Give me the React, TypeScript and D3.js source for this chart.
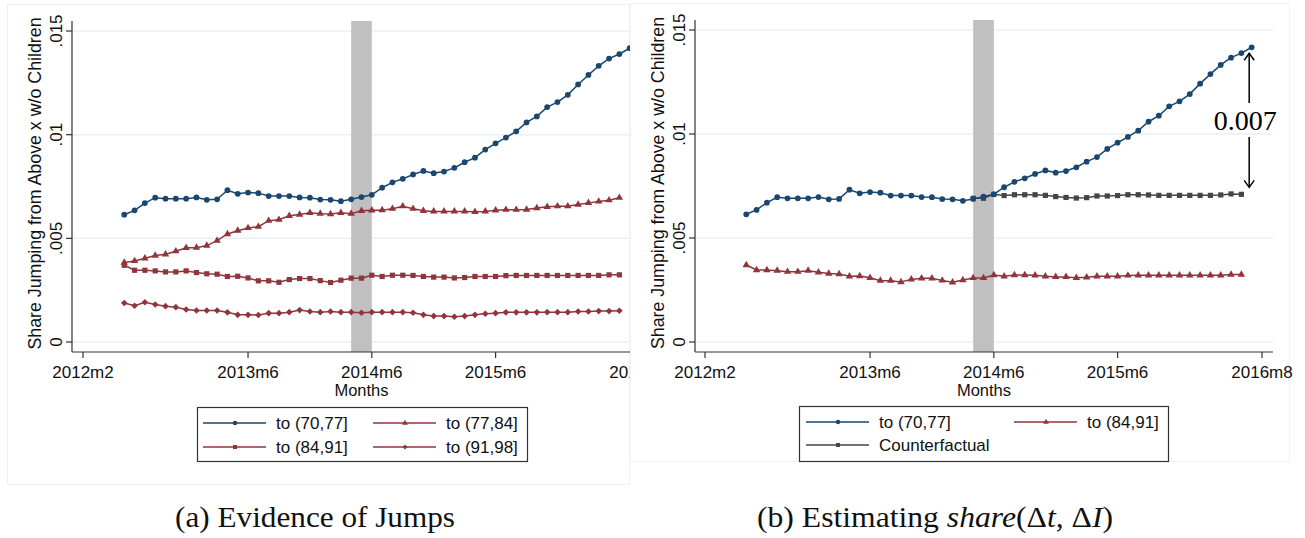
import React from "react";
import * as d3 from "d3";

// ---------- data (month index 0 = 2012m2) ----------
const tickMonths = [0, 16, 28, 40, 54];
const tickLabels = ["2012m2", "2013m6", "2014m6", "2015m6", "2016m8"];
const yTicks = [0, 0.005, 0.01, 0.015];
const yTickLabels = ["0", ".005", ".01", ".015"];

const start70 = 4; // 2012m6
const s70_77 = [
  0.00614, 0.00635, 0.0067, 0.00696, 0.00691, 0.00691, 0.00691, 0.00697, 0.00686, 0.00688,
  0.00732, 0.00715, 0.00721, 0.00718, 0.00704, 0.00704, 0.00704, 0.00697, 0.00696, 0.00687,
  0.00686, 0.00679, 0.00688, 0.00699, 0.0071, 0.00744, 0.0077, 0.00787, 0.00808, 0.00825,
  0.00814, 0.00822, 0.0084, 0.00867, 0.00889, 0.00928, 0.00958, 0.00986, 0.01016, 0.01059,
  0.01088, 0.01133, 0.01157, 0.01192, 0.01242, 0.01288, 0.01332, 0.01367, 0.01389, 0.01417,
];
const startRed = 4;
const s77_84 = [
  0.00383, 0.00391, 0.00404, 0.00417, 0.00423, 0.00438, 0.00454, 0.00455, 0.00465, 0.00489,
  0.00521, 0.00537, 0.0055, 0.00556, 0.00585, 0.0059, 0.00609, 0.00615, 0.00623, 0.00619,
  0.00617, 0.00623, 0.00619, 0.00633, 0.00635, 0.00636, 0.00643, 0.00655, 0.00643, 0.00633,
  0.0063, 0.0063, 0.0063, 0.0063, 0.00628, 0.0063, 0.00635, 0.00638, 0.00638, 0.00639,
  0.00646, 0.00652, 0.00655, 0.00655, 0.00663, 0.00671, 0.00678, 0.00684, 0.00696,
];
const s84_91 = [
  0.0037, 0.00346, 0.00346, 0.00343, 0.00338, 0.00338, 0.00343, 0.00335, 0.00329, 0.00327,
  0.00316, 0.00317, 0.00309, 0.00295, 0.00295, 0.00288, 0.00301, 0.00306, 0.00306, 0.00296,
  0.00287, 0.00298, 0.00308, 0.00308, 0.00322, 0.00316, 0.00322, 0.00322, 0.00321, 0.00316,
  0.00313, 0.00313, 0.00309, 0.00311, 0.00316, 0.00316, 0.00316, 0.0032, 0.00321, 0.00321,
  0.00321, 0.00321, 0.00321, 0.00321, 0.00321, 0.00321, 0.00321, 0.00324, 0.00324,
];
const s91_98 = [
  0.00188, 0.00175, 0.00192, 0.00181, 0.00173, 0.00168, 0.00157, 0.00152, 0.00152, 0.00152,
  0.00143, 0.00131, 0.00131, 0.0013, 0.00139, 0.00139, 0.00144, 0.00154, 0.00147, 0.00144,
  0.00147, 0.00144, 0.00144, 0.00141, 0.00144, 0.00144, 0.00144, 0.00144, 0.00141, 0.00131,
  0.00125, 0.00125, 0.00122, 0.00125, 0.00131, 0.00136, 0.00139, 0.00143, 0.00143, 0.00143,
  0.00143, 0.00144, 0.00144, 0.00144, 0.00147, 0.00147, 0.00149, 0.00149, 0.00151,
];
const startCF = 26; // 2014m4
const counterfactual = [
  0.00691, 0.00691, 0.0071, 0.00704, 0.00708, 0.00708, 0.00708, 0.00705, 0.00699, 0.00695,
  0.00692, 0.00694, 0.00702, 0.00702, 0.00704, 0.00708, 0.00708, 0.00707, 0.00705, 0.00705,
  0.00705, 0.00705, 0.00705, 0.00705, 0.00707, 0.00712, 0.0071,
];
const bandMonths = [26, 28]; // 2014m4 - 2014m6
const gapLabel = "0.007";

const NAVY = "#1a476f";
const MAROON = "#90353b";
const CFGRAY = "#454545";
const GRID = "#e9f0f2";
const SANS = "'Liberation Sans', Arial, sans-serif";
const SERIF = "'Liberation Serif', 'Times New Roman', serif";
const FS = 17;

type Series = { values: number[]; start: number; color: string; shape: string; label: string };

const symbolFor = (shape: string, size: number) => {
  if (shape === "circle") return d3.symbol(d3.symbolCircle, size)() as string;
  if (shape === "triangle") return d3.symbol(d3.symbolTriangle, size)() as string;
  return d3.symbol(d3.symbolSquare, size)() as string; // square, and diamond = rotated square
};
const markerSize: Record<string, number> = { circle: 26, triangle: 24, square: 27, diamond: 22 };

function Marker({ x, y, shape, color, scale = 1 }: any) {
  const rot = shape === "diamond" ? 45 : 0;
  return (
    <path
      d={symbolFor(shape, markerSize[shape] * scale)}
      transform={`translate(${x},${y}) rotate(${rot})`}
      fill={color}
      stroke="none"
    />
  );
}

type PanelCfg = {
  axisX: number;
  xr: [number, number];
  yr: [number, number];
  top: number;
  base: number;
  xEnd: number;
  series: Series[];
};

function Panel({ cfg, children }: { cfg: PanelCfg; children?: any }) {
  const x = d3.scaleLinear().domain([0, 54]).range(cfg.xr);
  const y = d3.scaleLinear().domain([0, 0.015]).range(cfg.yr);
  const line = d3
    .line<[number, number]>()
    .x((d) => x(d[0]))
    .y((d) => y(d[1]));
  const mid = (cfg.top + cfg.base) / 2 - 3;
  return (
    <g>
      {yTicks.map((t) => (
        <line key={t} x1={cfg.axisX} x2={cfg.xEnd} y1={y(t)} y2={y(t)} stroke={GRID} strokeWidth={1.5} />
      ))}
      <rect
        x={x(bandMonths[0])}
        width={x(bandMonths[1]) - x(bandMonths[0])}
        y={cfg.top}
        height={cfg.base - cfg.top}
        fill="#c0c0c0"
      />
      {cfg.series.map((s) => {
        const pts: [number, number][] = s.values.map((v, i) => [s.start + i, v]);
        return (
          <g key={s.label}>
            <path d={line(pts) as string} fill="none" stroke={s.color} strokeWidth={1.5} />
            {pts.map((p, i) => (
              <Marker key={i} x={x(p[0])} y={y(p[1])} shape={s.shape} color={s.color} />
            ))}
          </g>
        );
      })}
      {children && children(x, y)}
      <line x1={cfg.axisX} x2={cfg.axisX} y1={cfg.top} y2={cfg.base} stroke="#333" strokeWidth={1.2} />
      <line x1={cfg.axisX} x2={cfg.xEnd} y1={cfg.base} y2={cfg.base} stroke="#333" strokeWidth={1.2} />
      {yTicks.map((t, i) => (
        <g key={t}>
          <line x1={cfg.axisX - 6} x2={cfg.axisX} y1={y(t)} y2={y(t)} stroke="#333" strokeWidth={1.2} />
          <text
            transform={`translate(${cfg.axisX - 10},${y(t)}) rotate(-90)`}
            textAnchor="middle"
            fontFamily={SANS}
            fontSize={FS}
            fill="#111"
          >
            {yTickLabels[i]}
          </text>
        </g>
      ))}
      {tickMonths.map((m, i) => (
        <g key={m}>
          <line x1={x(m)} x2={x(m)} y1={cfg.base} y2={cfg.base + 6} stroke="#333" strokeWidth={1.2} />
          <text x={x(m)} y={cfg.base + 26} textAnchor="middle" fontFamily={SANS} fontSize={FS} fill="#111">
            {tickLabels[i]}
          </text>
        </g>
      ))}
      <text
        x={(cfg.axisX + cfg.xEnd) / 2}
        y={cfg.base + 44}
        textAnchor="middle"
        fontFamily={SANS}
        fontSize={16.5}
        fill="#111"
      >
        Months
      </text>
      <text
        transform={`translate(${cfg.axisX - 31},${mid}) rotate(-90)`}
        textAnchor="middle"
        fontFamily={SANS}
        fontSize={17.8}
        fill="#111"
      >
        Share Jumping from Above x w/o Children
      </text>
    </g>
  );
}

function LegendItem({ x, y, s, textX }: any) {
  return (
    <g>
      <line x1={x} x2={x + 63} y1={y} y2={y} stroke={s.color} strokeWidth={1.4} />
      <Marker x={x + 32} y={y} shape={s.shape} color={s.color} scale={0.6} />
      <text x={textX} y={y + 6} fontFamily={SANS} fontSize={FS} fill="#111">
        {s.label}
      </text>
    </g>
  );
}

export default function App() {
  const blue: Series = { values: s70_77, start: start70, color: NAVY, shape: "circle", label: "to (70,77]" };
  const tri: Series = { values: s77_84, start: startRed, color: MAROON, shape: "triangle", label: "to (77,84]" };
  const sq: Series = { values: s84_91, start: startRed, color: MAROON, shape: "square", label: "to (84,91]" };
  const dia: Series = { values: s91_98, start: startRed, color: MAROON, shape: "diamond", label: "to (91,98]" };
  const triR: Series = { values: s84_91, start: startRed, color: MAROON, shape: "triangle", label: "to (84,91]" };
  const cf: Series = { values: counterfactual, start: startCF, color: CFGRAY, shape: "square", label: "Counterfactual" };

  const leftCfg: PanelCfg = {
    axisX: 72,
    xr: [83, 640],
    yr: [342, 31],
    top: 21,
    base: 352,
    xEnd: 651,
    series: [tri, sq, dia, blue],
  };
  const rightCfg: PanelCfg = {
    axisX: 695,
    xr: [705, 1262],
    yr: [342, 30],
    top: 20,
    base: 352,
    xEnd: 1273,
    series: [triR, cf, blue],
  };

  const lastBlue = start70 + s70_77.length - 1;

  return (
    <svg
      width={1305}
      height={538}
      viewBox="0 0 1305 538"
      style={{ position: "absolute", left: 0, top: 0, background: "#fff" }}
    >
      <defs>
        <clipPath id="clipL">
          <rect x={0} y={0} width={630} height={538} />
        </clipPath>
      </defs>
      <rect x={0} y={0} width={1305} height={538} fill="#fff" />
      <rect x={7.5} y={4.5} width={622} height={480} fill="none" stroke="#f1f1f1" strokeWidth={1} />
      <rect x={630.5} y={3.5} width={659} height={458} fill="none" stroke="#f3f3f3" strokeWidth={1} />

      <g clipPath="url(#clipL)">
        <Panel cfg={leftCfg} />
      </g>
      <Panel cfg={rightCfg}>
        {(x: any, y: any) => {
          const ax = x(lastBlue) - 2.5;
          const yt = y(s70_77[s70_77.length - 1]) + 6;
          const yb = y(counterfactual[counterfactual.length - 1]) - 7;
          const ty = 130;
          return (
            <g stroke="#000" strokeWidth={1.5} fill="none">
              <line x1={ax} x2={ax} y1={yt} y2={ty - 27} />
              <line x1={ax} x2={ax} y1={ty + 7} y2={yb} />
              <polyline points={`${ax - 5},${yt + 7} ${ax},${yt} ${ax + 5},${yt + 7}`} />
              <polyline points={`${ax - 5},${yb - 7} ${ax},${yb} ${ax + 5},${yb - 7}`} />
              <text
                x={ax - 4}
                y={ty}
                textAnchor="middle"
                fontFamily={SERIF}
                fontSize={28}
                fill="#000"
                stroke="none"
              >
                {gapLabel}
              </text>
            </g>
          );
        }}
      </Panel>

      <rect x={197.5} y={407.5} width={330} height={54} fill="#fff" stroke="#333" strokeWidth={1.2} />
      <LegendItem x={203} y={423} s={blue} textX={276} />
      <LegendItem x={373} y={423} s={tri} textX={446} />
      <LegendItem x={203} y={447} s={sq} textX={276} />
      <LegendItem x={373} y={447} s={dia} textX={446} />

      <rect x={799.5} y={406.5} width={369} height={55} fill="#fff" stroke="#333" strokeWidth={1.2} />
      <LegendItem x={806} y={422} s={blue} textX={879} />
      <LegendItem x={1014} y={422} s={triR} textX={1087} />
      <LegendItem x={806} y={445} s={cf} textX={879} />

      <text x={175} y={527} fontFamily={SERIF} fontSize={29} fill="#111" textLength={280} lengthAdjust="spacingAndGlyphs">
        (a) Evidence of Jumps
      </text>
      <text x={757} y={527} fontFamily={SERIF} fontSize={29} fill="#111" textLength={356} lengthAdjust="spacingAndGlyphs">
        (b) Estimating <tspan fontStyle="italic">share</tspan>(Δ<tspan fontStyle="italic">t</tspan>, Δ<tspan fontStyle="italic">I</tspan>)
      </text>
    </svg>
  );
}
